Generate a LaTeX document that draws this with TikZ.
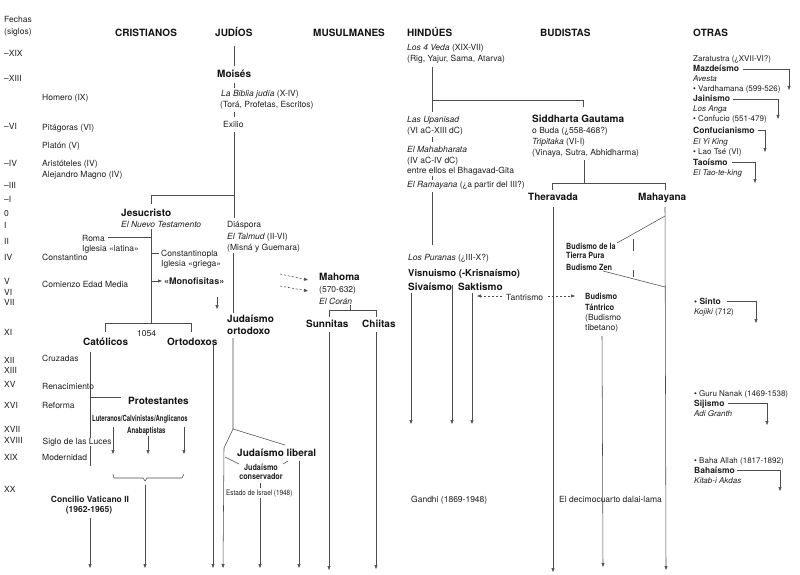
\documentclass[tikz,border=0pt]{standalone}
\usepackage{fontspec}
\setmainfont{TeX Gyre Heros}
\usetikzlibrary{arrows.meta}
\newcommand{\cnd}[2][0.8]{\scalebox{#1}[1]{#2}}
\begin{document}
\begin{tikzpicture}[x=1pt,y=-1pt,
  tx/.style={anchor=base west,inner sep=0pt,yshift=-3pt,font=\fontsize{8.5}{10}\selectfont,text=black!88},
  ot/.style={tx,font=\fontsize{8}{9.5}\selectfont},
  bf/.style={tx,font=\bfseries\fontsize{8.5}{10}\selectfont},
  bg/.style={anchor=base west,inner sep=0pt,yshift=-3.6pt,font=\bfseries\fontsize{10}{12}\selectfont,text=black!92},
  hd/.style={bg},
  ln/.style={draw=black!70,line width=0.55pt},
  arr/.style={ln,-{Triangle[length=4pt,width=3pt]}},
  darr/.style={arr,dash pattern=on 2.2pt off 1.8pt},
]
\useasboundingbox[fill=white] (0,0) rectangle (800,575);

% ---------- connectors (drawn first) ----------
% Judios
\draw[ln] (234,46) -- (234,66);
\draw[ln] (234,83) -- (234,88);
\draw[ln] (234,112) -- (234,117);
\draw[ln] (234,132) -- (234,218);
\coordinate (jc) at (151,195);
\draw[ln] (234,195) -- (jc) -- (151,204);
\draw[ln] (233,253) -- (233,313);
\coordinate (jsplit) at (233,429);
\coordinate (jbend) at (224,448);
\coordinate (jlib) at (285,445);
\draw[ln] (233,338) -- (jsplit) -- (jlib);
\draw[arr] (jsplit) -- (jbend) -- (223,568);
\draw[ln] (225,457) -- (239,464);
\draw[ln] (288,461) -- (283,464);
\draw[ln] (260,483) -- (260,488);
\draw[arr] (260,498) -- (260,568);
\draw[arr] (299,461) -- (299,568);
\draw[arr] (213,345) -- (213,568);
\draw[arr] (217,297) -- (217,309);
% Cristianos
\draw[ln] (151,229) -- (151,323);
\draw[ln] (108,237) -- (151,237);
\draw[ln] (151,253) -- (159,253);
\draw[arr] (151,281) -- (162,281);
\draw[ln] (105,332) -- (105,323) -- (191,323) -- (191,332);
\draw[ln] (90,352) -- (90,466);
\draw[arr] (90,518) -- (90,568);
\draw[ln] (90,397) -- (121,397);
\draw[arr] (113,427) -- (113,454);
\draw[arr] (148,436) -- (148,454);
\draw[arr] (184,427) -- (184,454);
\draw[ln] (113,474) -- (114,478) -- (143,478) -- (145,481) -- (147,478) -- (182,478) -- (184,474);
\draw[arr] (145,485) -- (145,568);
% Musulmanes
\draw[darr] (280,274) -- (308,280);
\draw[darr] (280,286) -- (308,291);
\draw[ln] (350,305) -- (350,310);
\draw[ln] (329,317) -- (329,310) -- (376,310) -- (376,317);
\draw[arr] (329,332) -- (329,570);
\draw[arr] (376,332) -- (376,569);
% Hindues
\draw[ln] (432,67) -- (432,112);
\draw[ln] (432,100) -- (583,100) -- (583,107);
\draw[ln] (432,137) -- (432,142);
\draw[ln] (432,176) -- (432,180);
\draw[ln] (432,192) -- (432,245);
\draw[arr] (411,293) -- (411,424);
\draw[arr] (452,285) -- (452,424);
\draw[arr] (472,293) -- (472,424);
\draw[darr] (502,296) -- (477,296);
\draw[darr] (548,296) -- (575,296);
% Budistas
\draw[ln] (584,160) -- (584,183);
\draw[ln] (552,190) -- (552,183) -- (665,183) -- (665,190);
\draw[arr] (553,207) -- (553,572);
\draw[arr] (665,207) -- (666,570);
\draw[ln] (665,216) -- (617,243);
\draw[ln] (603,271) -- (665,287);
\draw[ln] (633,239) -- (633,251);
\draw[ln] (633,270) -- (633,277);
\draw[arr] (602,336) -- (603,567);
% Otras
\draw[arr] (743,69) -- (789,69) -- (789,90);
\draw[arr] (733,99) -- (778,99) -- (778,119);
\draw[arr] (758,130) -- (765,130) -- (765,152);
\draw[arr] (732,162) -- (755,162) -- (755,183);
\draw[arr] (727,301) -- (756,301) -- (756,323);
\draw[arr] (728,403) -- (767,403) -- (767,425);
\draw[arr] (737,470) -- (780,470) -- (780,491);

% ---------- dates ----------
\node[tx] (fe1) at (4,20) {Fechas};
\node[tx] (fe2) at (4,32) {(siglos)};
\foreach \lab/\yy [count=\i] in {–XIX/54,–XIII/79,–VI/127,–IV/163,–III/185,–I/199,0/213,I/225,II/241,IV/257,V/281,VI/292,VII/302,XI/332,XII/360,XIII/370,XV/384,XVI/405,XVII/429,XVIII/440,XIX/457,XX/489}
  \node[tx] (d\i) at (4,\yy) {\lab};

% ---------- events ----------
\node[tx] (e1) at (42,98) {Homero (IX)};
\node[tx] (e2) at (42,128) {Pitágoras (VI)};
\node[tx] (e3) at (42,145) {Platón (V)};
\node[tx] (e4) at (42,163) {Aristóteles (IV)};
\node[tx] (e5) at (42,174) {Alejandro Magno (IV)};
\node[tx] (e6) at (42,257) {Constantino};
\node[tx] (e7) at (42,284) {Comienzo Edad Media};
\node[tx] (e8) at (42,358) {Cruzadas};
\node[tx] (e9) at (42,386) {Renacimiento};
\node[tx] (e10) at (42,405) {Reforma};
\node[tx,fill=white,inner xsep=0.5pt] (e11) at (42,441) {Siglo de las Luces};
\node[tx] (e12) at (42,457) {Modernidad};

% ---------- headers ----------
\node[hd] (hcr) at (115,33) {CRISTIANOS};
\node[hd] (hju) at (215,33) {JUDÍOS};
\node[hd] (hmu) at (313,33) {MUSULMANES};
\node[hd] (hhi) at (407,33) {HINDÚES};
\node[hd] (hbu) at (540,33) {BUDISTAS};
\node[hd] (hot) at (693,33) {OTRAS};

% ---------- cristianos ----------
\node[bg] (jesus) at (121,213) {Jesucristo};
\node[tx] (nt) at (121,224) {\itshape El Nuevo Testamento};
\node[tx] (roma) at (82,238) {Roma};
\node[tx] (lat) at (82,248) {Iglesia «latina»};
\node[tx] (cons) at (161,253) {Constantinopla};
\node[tx] (gri) at (161,263) {Iglesia «griega»};
\node[tx,font=\bfseries\fontsize{9}{10}\selectfont] (mono) at (164,281) {«Monofisitas»};
\node[tx] (y1054) at (137,333) {1054};
\node[bg] (cat) at (83,342) {Católicos};
\node[bg] (ort) at (167,342) {Ortodoxos};
\node[bg] (prot) at (128,401) {Protestantes};
\node[bf] (lut) at (92,418) {\cnd[0.7]{Luteranos/Calvinistas/Anglicanos}};
\node[bf] (ana) at (127,430) {\cnd[0.72]{Anabaptistas}};
\node[bf,anchor=base] (conc) at (90,499) {Concilio Vaticano II};
\node[bf,anchor=base] (conc2) at (89,509) {(1962-1965)};

% ---------- judios ----------
\node[bg] (moises) at (217,74) {Moisés};
\node[tx] (biblia) at (221,94) {\itshape La Biblia judía\upshape\ (X-IV)};
\node[tx] (tora) at (220,105) {(Torá, Profetas, Escritos)};
\node[tx] (exilio) at (223,125) {Exilio};
\node[tx] (diasp) at (227,224) {Diáspora};
\node[tx] (talmud) at (227,236) {\itshape El Talmud\upshape\ (II-VI)};
\node[tx] (misna) at (227,247) {(Misná y Guemara)};
\node[bg] (orto1) at (227,319) {Judaísmo};
\node[bg] (orto2) at (227,331) {ortodoxo};
\node[bg] (lib) at (237,453) {Judaísmo liberal};
\node[bf,anchor=base] (cons1) at (261,467) {\cnd[0.85]{Judaísmo}};
\node[bf,anchor=base] (cons2) at (261,476) {\cnd[0.85]{conservador}};
\node[tx,font=\fontsize{7.5}{9}\selectfont] (israel) at (226,492) {\cnd[0.85]{Estado de Israel (1948)}};

% ---------- musulmanes ----------
\node[bg] (mahoma) at (319,277) {Mahoma};
\node[tx] (mah2) at (319,289) {(570-632)};
\node[tx] (coran) at (319,301) {\itshape El Corán};
\node[bg] (sunn) at (306,324) {Sunnitas};
\node[bg] (chii) at (362,324) {Chiitas};

% ---------- hindues ----------
\node[tx] (veda) at (407,48) {\itshape Los 4 Veda\upshape\ (XIX-VII)};
\node[tx] (rig) at (407,59) {(Rig, Yajur, Sama, Atarva)};
\node[tx] (upa) at (407,120) {\itshape Las Upanisad};
\node[tx] (upa2) at (407,131) {(VI aC-XIII dC)};
\node[tx] (maha) at (407,150) {\itshape El Mahabharata};
\node[tx] (maha2) at (407,161) {(IV aC-IV dC)};
\node[tx] (maha3) at (407,170) {entre ellos el Bhagavad-Gita};
\node[tx] (rama) at (407,184) {\itshape El Ramayana\upshape\ (¿a partir del III?)};
\node[tx] (pur) at (408,257) {\itshape Los Puranas\upshape\ (¿III-X?)};
\node[bg,font=\bfseries\fontsize{9.5}{11}\selectfont] (visnu) at (408,273) {Visnuismo (-Krisnaísmo)};
\node[bg] (siva) at (408,287) {Sivaísmo};
\node[bg] (sakt) at (458,287) {Saktismo};
\node[tx] (tant) at (506,297) {Tantrismo};
\node[tx] (gandhi) at (411,499) {Gandhi (1869-1948)};

% ---------- budistas ----------
\node[bg] (sidd) at (532,119) {Siddharta Gautama};
\node[tx] (buda) at (532,130) {o Buda (¿558-468?)};
\node[tx] (tripi) at (532,141) {\itshape Tripitaka\upshape\ (VI-I)};
\node[tx] (vinaya) at (532,152) {(Vinaya, Sutra, Abhidharma)};
\node[bg] (thera) at (528,197) {Theravada};
\node[bg] (mahay) at (638,197) {Mahayana};
\node[bf] (tp1) at (566,246) {\cnd[0.85]{Budismo de la}};
\node[bf] (tp2) at (566,255) {\cnd[0.85]{Tierra Pura}};
\node[bf] (zen) at (566,267) {\cnd[0.85]{Budismo Zen}};
\node[bf] (bt1) at (585,296) {\cnd[0.88]{Budismo}};
\node[bf] (bt2) at (585,307) {\cnd[0.88]{Tántrico}};
\node[tx] (bt3) at (585,317) {(Budismo};
\node[tx] (bt4) at (585,327) {tibetano)};
\node[tx] (dalai) at (559,499) {El decimocuarto dalai-lama};

% ---------- otras ----------
\node[ot] (zar) at (693,59) {Zaratustra (¿XVII-VI?)};
\node[bf] (mazd) at (693,69) {Mazdeísmo};
\node[ot] (aves) at (693,79) {\itshape Avesta};
\node[ot] (vard) at (693,89) {\textbullet\ Vardhamana (599-526)};
\node[bf] (jain) at (693,99) {Jainismo};
\node[ot] (anga) at (693,109) {\itshape Los Anga};
\node[ot] (conf) at (693,119) {\textbullet\ Confucio (551-479)};
\node[bf] (confu) at (693,130) {Confucianismo};
\node[ot] (yiking) at (693,141) {\itshape El Yi King};
\node[ot] (lao) at (693,151) {\textbullet\ Lao Tsé (VI)};
\node[bf] (tao) at (693,162) {Taoísmo};
\node[ot] (taote) at (693,172) {\itshape El Tao-te-king};
\node[bf] (sinto) at (694,301) {\textbullet\ Sinto};
\node[ot] (kojiki) at (694,311) {\itshape Kojiki\upshape\ (712)};
\node[ot] (guru) at (694,393) {\textbullet\ Guru Nanak (1469-1538)};
\node[bf] (sij) at (694,403) {Sijismo};
\node[ot] (adi) at (694,413) {\itshape Adi Granth};
\node[ot] (baha) at (694,460) {\textbullet\ Baha Allah (1817-1892)};
\node[bf] (bahai) at (694,470) {Bahaísmo};
\node[ot] (kitab) at (694,480) {\itshape Kitab-i Akdas};
\end{tikzpicture}
\end{document}
